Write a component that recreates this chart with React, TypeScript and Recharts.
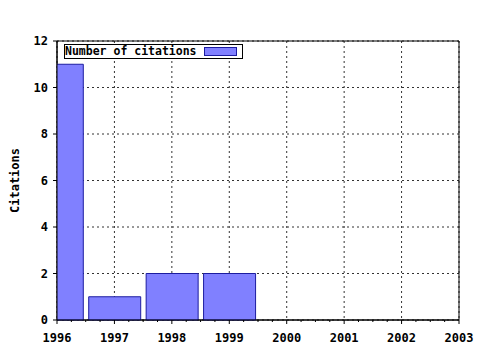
import React from 'react'
import { BarChart, Bar, XAxis, YAxis, CartesianGrid, Legend, ReferenceArea } from 'recharts'

const years = [1996, 1997, 1998, 1999]
const citations = [11, 1, 2, 2]
const yearTicks = [1996, 1997, 1998, 1999, 2000, 2001, 2002, 2003]
const citationTicks = [0, 2, 4, 6, 8, 10, 12]

const data = years.map((year, i) => ({ year, citations: citations[i] }))
// quarter-year minor ticks, like gnuplot's mxtics 4
const minorTicks = yearTicks.flatMap((y, i) =>
  i < yearTicks.length - 1 ? [y, y + 0.25, y + 0.5, y + 0.75] : [y]
)

const FONT = '"DejaVu Sans Mono", monospace'

const BottomTick = ({ x, y, payload }: any) => {
  const major = Number.isInteger(payload.value)
  return (
    <g>
      <line x1={x} x2={x} y1={y} y2={y + (major ? 4 : 2)} stroke="#000" />
      {major && (
        <text x={x} y={y + 22} textAnchor="middle" fontFamily={FONT} fontWeight="bold" fontSize={12} fill="#000">
          {payload.value}
        </text>
      )}
    </g>
  )
}

const TopTick = ({ x, y, payload }: any) => {
  const major = Number.isInteger(payload.value)
  return <line x1={x} x2={x} y1={y} y2={y - (major ? 4 : 2)} stroke="#000" />
}

const LegendBox = ({ payload }: any) => (
  <div
    style={{
      display: 'flex', alignItems: 'center', background: '#fff', border: '1px solid #000',
      height: 13, width: 177, boxSizing: 'content-box', fontFamily: FONT, fontWeight: 'bold',
      fontSize: 11.5, color: '#000', lineHeight: '13px',
    }}
  >
    <span style={{ whiteSpace: 'pre' }}>{payload?.[0]?.value ?? 'Number of citations'}</span>
    <span
      style={{
        position: 'absolute', left: 140, top: 3, width: 31, height: 7,
        background: '#8080ff', border: '1px solid #1c1ca0',
      }}
    />
  </div>
)

export default function App() {
  return (
    <div style={{ position: 'absolute', left: 0, top: 0, width: 480, height: 350, background: '#fff' }}>
      <BarChart width={480} height={350} data={data} margin={{ top: 41, right: 21, left: 0, bottom: 0 }}>
        <CartesianGrid xAxisId="bars" yAxisId="left" stroke="#333" strokeDasharray="2 3" />
        <XAxis
          xAxisId="bars" dataKey="year" type="number" domain={[1996, 2003]} ticks={yearTicks}
          allowDataOverflow hide height={0}
        />
        <XAxis
          xAxisId="bottom" dataKey="year" type="number" domain={[1996, 2003]} ticks={minorTicks} interval={0}
          allowDataOverflow height={30} tickSize={0} tickMargin={0} tickLine={false} axisLine={{ stroke: '#000' }}
          tick={<BottomTick />}
        />
        <XAxis
          xAxisId="top" dataKey="year" orientation="top" type="number" domain={[1996, 2003]} ticks={minorTicks}
          interval={0} allowDataOverflow height={0} tickSize={0} tickMargin={0} tickLine={false}
          axisLine={{ stroke: '#000' }} tick={<TopTick />}
        />
        <YAxis
          yAxisId="left" domain={[0, 12]} ticks={citationTicks} interval={0} width={57}
          tickSize={4} tickMargin={5} axisLine={{ stroke: '#000' }} tickLine={{ stroke: '#000' }}
          tick={{ fill: '#000', fontFamily: FONT, fontWeight: 'bold', fontSize: 12 }}
          label={{
            value: 'Citations', angle: -90, position: 'center', dx: -14,
            style: { fill: '#000', fontFamily: FONT, fontWeight: 'bold', fontSize: 12 },
          }}
        />
        <YAxis yAxisId="right" orientation="right" domain={[0, 12]} width={0} tick={false} tickLine={false} axisLine={{ stroke: '#000' }} />
        <Legend
          layout="vertical" align="center" verticalAlign="middle"
          wrapperStyle={{ left: 64, top: 44, width: 179, height: 15 }}
          content={<LegendBox />}
        />
        <Bar
          xAxisId="bars" yAxisId="left" dataKey="citations" name="Number of citations"
          fill="#8080ff" stroke="#1c1ca0" strokeWidth={1} barSize={52} isAnimationActive={false}
        />
        {/* plot border */}
        <ReferenceArea
          xAxisId="bars" yAxisId="left" x1={1996} x2={2003} y1={0} y2={12}
          fill="none" fillOpacity={0} stroke="#000" strokeWidth={1} ifOverflow="visible"
        />
      </BarChart>
    </div>
  )
}
